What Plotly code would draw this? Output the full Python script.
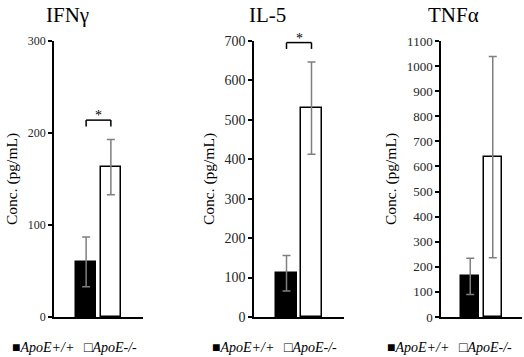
import plotly.graph_objects as go

# ---------------- data ----------------
groups = ["ApoE+/+", "ApoE-/-"]
cytokines = ["IFNγ", "IL-5", "TNFα"]
ifng_mean = [60, 163]
ifng_err = [27, 30]
il5_mean = [111, 530]
il5_err = [45, 117]
tnfa_mean = [162, 637]
tnfa_err = [72, 401]
y_max = [300, 700, 1100]
y_step = [100, 100, 100]
significant = [True, True, False]

means = [ifng_mean, il5_mean, tnfa_mean]
errs = [ifng_err, il5_err, tnfa_err]

# ---------------- styling ----------------
W, H = 524, 357
domains_px = [(54, 143), (254, 344), (441, 522)]
tick_sizes = [12, 14, 13]
serif = "Liberation Serif"
title_font = dict(family=serif, size=21, color="black")
fills = ["black", "white"]
legend_left_px = [10, 210, 385]
legend_gap_px = 72

fig = go.Figure()
annotations = []
shapes = []

for i, name in enumerate(cytokines):
    xa = "x" if i == 0 else f"x{i+1}"
    ya = "y" if i == 0 else f"y{i+1}"
    fig.add_trace(go.Bar(
        x=list(range(len(groups))),
        y=means[i],
        width=0.82,
        marker=dict(color=fills, line=dict(color="black", width=1.5)),
        error_y=dict(type="data", array=errs[i], visible=True,
                     color="#7f7f7f", thickness=1.5, width=4),
        xaxis=xa, yaxis=ya, showlegend=False,
        hovertext=groups, name=name,
    ))
    d0, d1 = domains_px[i]
    axsuffix = "" if i == 0 else str(i + 1)
    fig.update_layout(**{
        f"xaxis{axsuffix}": dict(
            domain=[d0 / W, d1 / W], range=[-1.3, 2.3], automargin=False,
            showline=True, linecolor="black", linewidth=1.5,
            showticklabels=False, ticks="", showgrid=False, zeroline=False,
            anchor=ya,
        ),
        f"yaxis{axsuffix}": dict(
            range=[0, y_max[i]], dtick=y_step[i], tick0=0, automargin=False,
            showline=True, linecolor="black", linewidth=1.5,
            ticks="outside", ticklen=4, tickwidth=1.5, tickcolor="black",
            tickfont=dict(family=serif, size=tick_sizes[i], color="#262626"),
            showgrid=False, zeroline=False, anchor=xa,
            title=dict(text="Conc. (pg/mL)", standoff=6,
                       font=dict(family=serif, size=15.5, color="black")),
        ),
    })
    # panel title
    annotations.append(dict(
        text=name, xref=f"{xa} domain", yref=f"{ya} domain",
        x=0.15, y=1, xanchor="center", yanchor="middle", yshift=26,
        showarrow=False, font=title_font,
    ))
    # significance bracket
    if significant[i]:
        top = max(m + e for m, e in zip(means[i], errs[i]))
        yb = top + 0.07 * y_max[i]
        leg = 0.023 * y_max[i]
        for (x0, y0, x1, y1) in [(0, yb - leg, 0, yb), (0, yb, 1, yb), (1, yb, 1, yb - leg)]:
            shapes.append(dict(type="line", xref=xa, yref=ya, x0=x0, y0=y0, x1=x1, y1=y1,
                               line=dict(color="black", width=1.5)))
        annotations.append(dict(
            text="*", xref=xa, yref=ya, x=0.5, y=yb, xanchor="center",
            yanchor="bottom", yshift=-5, showarrow=False,
            font=dict(family=serif, size=14, color="black"),
        ))
    # legend (text with square glyphs)
    for g, (grp, sym) in enumerate(zip(groups, ["■", "□"])):
        annotations.append(dict(
            text=f"{sym}<i>{grp}</i>",
            xref="paper", yref=f"{ya} domain",
            x=(legend_left_px[i] + g * legend_gap_px) / W, y=0,
            xanchor="left", yanchor="middle", yshift=-30,
            showarrow=False, font=dict(family=serif, size=14, color="black"),
        ))

fig.update_layout(
    width=W, height=H,
    margin=dict(l=0, r=0, t=41, b=40),
    paper_bgcolor="white", plot_bgcolor="white",
    annotations=annotations, shapes=shapes,
    bargap=0,
)

fig.write_html("out.html",
               config={"displayModeBar": False},
               post_script="document.body.style.margin='0px';document.body.style.overflow='hidden';")
